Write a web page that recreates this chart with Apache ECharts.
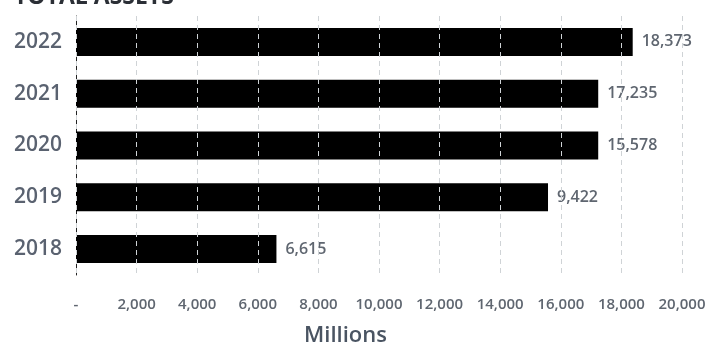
<!DOCTYPE html>
<html>
<head>
<meta charset="utf-8">
<script src="https://cdn.jsdelivr.net/npm/echarts@6/dist/echarts.min.js"></script>
<style>
  html, body { margin: 0; padding: 0; background: #fff; }
  #chart { width: 709px; height: 345px; }
</style>
</head>
<body>
<div id="chart"></div>
<script>
// years bottom to top
const years = ["2018", "2019", "2020", "2021", "2022"];
// bar lengths as drawn in the picture
const barValues = [6615, 15578, 17235, 17235, 18373];
// numbers printed next to the bars
const labelValues = [6615, 9422, 15578, 17235, 18373];

const chart = echarts.init(document.getElementById("chart"));
const font = "'Open Sans', sans-serif";

chart.setOption({
  animation: false,
  grid: { left: 76, right: 27, top: 16, bottom: 70 },
  graphic: [
    {
      type: "text",
      left: 14,
      top: -14,
      style: {
        text: "TOTAL ASSETS",
        font: "bold 23px " + font,
        fill: "#2b2f36",
      },
    },
    {
      type: "text",
      left: 304,
      top: 325,
      style: {
        text: "Millions",
        font: "600 22px " + font,
        fill: "#4a5462",
      },
    },
  ],
  xAxis: {
    type: "value",
    min: 0,
    max: 20000,
    interval: 2000,
    z: 5,
    axisLine: { show: false },
    axisTick: { show: false },
    axisLabel: {
      margin: 22,
      color: "#5f6670",
      fontFamily: font,
      fontSize: 15,
      fontWeight: 600,
      formatter: (v) => (v === 0 ? "-" : v.toLocaleString("en-US")),
    },
    splitLine: {
      show: true,
      lineStyle: { color: "#cfd3d6", type: [5, 4], width: 1 },
    },
  },
  yAxis: {
    type: "category",
    data: years,
    axisLine: { show: true, lineStyle: { color: "#222", width: 1 } },
    axisTick: { show: false },
    axisLabel: {
      margin: 14,
      color: "#5a6270",
      fontFamily: font,
      fontSize: 21,
      fontWeight: 600,
    },
  },
  series: [
    {
      type: "bar",
      data: barValues,
      barWidth: 28,
      itemStyle: { color: "#000" },
      label: {
        show: true,
        position: "right",
        distance: 9,
        color: "#5f6670",
        fontFamily: font,
        fontSize: 16,
        fontWeight: 600,
        formatter: (p) => labelValues[p.dataIndex].toLocaleString("en-US"),
      },
    },
  ],
});
</script>
</body>
</html>
